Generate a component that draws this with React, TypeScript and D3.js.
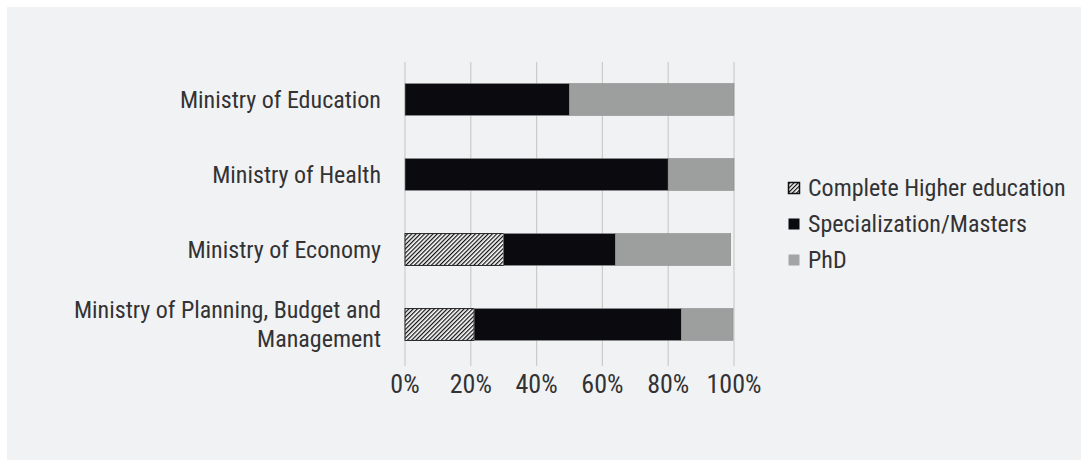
import { useEffect, useRef } from "react";
import * as d3 from "d3";

const ministries = [
  "Ministry of Education",
  "Ministry of Health",
  "Ministry of Economy",
  "Ministry of Planning, Budget and Management",
];
const higherEd = [0, 0, 30, 21];
const masters = [50, 80, 34, 63];
const phd = [50, 20, 35, 15.7];
const seriesNames = ["Complete Higher education", "Specialization/Masters", "PhD"];
const ticks = [0, 20, 40, 60, 80, 100];

// label lines for the long category
const labelLines: Record<string, string[]> = {
  "Ministry of Planning, Budget and Management": ["Ministry of Planning, Budget and", "Management"],
};

const FONT = "'Liberation Sans Narrow', 'Arial Narrow', 'Roboto Condensed', sans-serif";
const TEXT = "#333235";
const fills = ["url(#hatch)", "#0b0a0e", "#9d9f9f"];

export default function App() {
  const ref = useRef<SVGSVGElement>(null);

  useEffect(() => {
    if (!ref.current) return;
    const svg = d3.select(ref.current);
    svg.selectAll("*").remove();

    const defs = svg.append("defs");
    const pat = defs
      .append("pattern")
      .attr("id", "hatch")
      .attr("patternUnits", "userSpaceOnUse")
      .attr("width", 3)
      .attr("height", 3)
      .attr("patternTransform", "rotate(45)");
    pat.append("rect").attr("width", 3).attr("height", 3).attr("fill", "#fff");
    pat.append("line").attr("x1", 0.6).attr("y1", 0).attr("x2", 0.6).attr("y2", 3)
      .attr("stroke", "#111").attr("stroke-width", 1.3);

    // background panel
    svg.append("rect").attr("x", 7).attr("y", 7).attr("width", 1081).attr("height", 460).attr("fill", "#f1f2f4");

    const x = d3.scaleLinear().domain([0, 100]).range([405, 734]);
    const y = d3.scaleBand<string>().domain(ministries).range([62, 362]).paddingInner(0.575).paddingOuter(0.2875);

    // gridlines
    svg.append("g").selectAll("line").data(ticks).join("line")
      .attr("x1", (d) => x(d)).attr("x2", (d) => x(d))
      .attr("y1", 62).attr("y2", 366)
      .attr("stroke", "#cbcbcb").attr("stroke-width", 1.2);

    const rows = ministries.map((m, i) => ({ m, vals: [higherEd[i], masters[i], phd[i]] }));
    const g = svg.append("g");
    rows.forEach((r) => {
      let acc = 0;
      r.vals.forEach((v, s) => {
        if (v > 0) {
          g.append("rect")
            .attr("x", x(acc)).attr("y", y(r.m)!)
            .attr("width", x(acc + v) - x(acc)).attr("height", y.bandwidth())
            .attr("fill", fills[s])
            .attr("stroke", s === 0 ? "#222" : "#8a8a8a").attr("stroke-width", s === 0 ? 1 : 0.6);
        }
        acc += v;
      });
    });

    // x tick labels
    svg.append("g").selectAll("text").data(ticks).join("text")
      .attr("x", (d) => x(d)).attr("y", 393)
      .attr("text-anchor", "middle")
      .attr("font-family", FONT).attr("font-size", 26).attr("fill", TEXT)
      .text((d) => `${d}%`);

    // category labels
    ministries.forEach((m) => {
      const lines = labelLines[m] || [m];
      const cy = y(m)! + y.bandwidth() / 2;
      const lh = 29;
      lines.forEach((ln, k) => {
        svg.append("text")
          .attr("x", 381)
          .attr("y", cy + (k - (lines.length - 1) / 2) * lh)
          .attr("dy", "0.35em")
          .attr("text-anchor", "end")
          .attr("font-family", FONT).attr("font-size", 24).attr("fill", TEXT)
          .text(ln);
      });
    });

    // legend
    const lg = svg.append("g").selectAll("g").data(seriesNames).join("g")
      .attr("transform", (_, i) => `translate(788, ${188 + i * 36})`);
    lg.append("rect").attr("x", 0.5).attr("y", -5.5).attr("width", 11).attr("height", 11)
      .attr("fill", (_, i) => (i === 2 ? "#a3a5a5" : fills[i]))
      .attr("stroke", (_, i) => (i === 0 ? "#111" : "none")).attr("stroke-width", 1.5);
    lg.append("text").attr("x", 20).attr("dy", "0.35em")
      .attr("font-family", FONT).attr("font-size", 24).attr("fill", TEXT)
      .text((d) => d);
  }, []);

  return (
    <svg
      ref={ref}
      width={1081}
      height={460}
      style={{ position: "absolute", left: 0, top: 0, display: "block", background: "#fff" }}
    />
  );
}
